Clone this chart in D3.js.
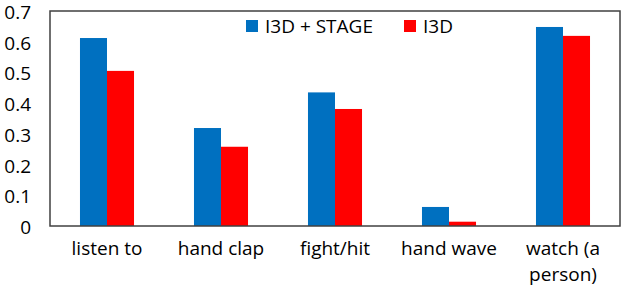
<!DOCTYPE html>
<html>
<head>
<meta charset="utf-8">
<script src="https://cdn.jsdelivr.net/npm/d3@7"></script>
<style>
  html, body { margin: 0; padding: 0; background: #fff; overflow: hidden; }
  svg { display: block; }
  text { font-family: "Open Sans", sans-serif; fill: #000; }
</style>
</head>
<body>
<svg width="624" height="288"></svg>
<script>
const categories = ['listen to', 'hand clap', 'fight/hit', 'hand wave', 'watch (a person)'];
const seriesNames = ['I3D + STAGE', 'I3D'];
const stageValues = [0.612, 0.319, 0.435, 0.062, 0.648];
const i3dValues = [0.505, 0.258, 0.381, 0.014, 0.619];
const yTicks = [0, 0.1, 0.2, 0.3, 0.4, 0.5, 0.6, 0.7];
const colors = ['#0070C0', '#FF0000'];

const svg = d3.select('svg');
const width = +svg.attr('width');
const height = +svg.attr('height');

const margin = { top: 11, left: 50, right: 4, bottom: 62 };
const innerWidth = width - margin.left - margin.right;
const innerHeight = height - margin.top - margin.bottom;

const data = categories.map((c, i) => ({ cat: c, values: [stageValues[i], i3dValues[i]] }));

const xScale = d3.scaleBand()
    .domain(categories)
    .range([0, innerWidth])
    .paddingInner(0.526)
    .paddingOuter(0.263);

const xSub = d3.scaleBand()
    .domain(seriesNames)
    .range([0, xScale.bandwidth()]);

const yScale = d3.scaleLinear()
    .domain([0, 0.7])
    .range([innerHeight, 0]);

const g = svg.append('g')
    .attr('transform', `translate(${margin.left},${margin.top})`);

// bars
g.selectAll('.group')
    .data(data)
    .enter()
    .append('g')
    .attr('transform', d => `translate(${xScale(d.cat)},0)`)
    .selectAll('rect')
    .data(d => d.values.map((v, i) => ({ name: seriesNames[i], v, i })))
    .enter()
    .append('rect')
    .attr('x', d => xSub(d.name))
    .attr('y', d => yScale(d.v))
    .attr('width', xSub.bandwidth())
    .attr('height', d => innerHeight - yScale(d.v))
    .attr('fill', d => colors[d.i]);

// frame
g.append('rect')
    .attr('width', innerWidth)
    .attr('height', innerHeight)
    .attr('fill', 'none')
    .attr('stroke', '#404040')
    .attr('stroke-width', 1.5);

// y tick labels
svg.append('g')
    .selectAll('text')
    .data(yTicks)
    .enter()
    .append('text')
    .attr('x', 31)
    .attr('y', d => margin.top + yScale(d) + 8)
    .attr('text-anchor', 'end')
    .attr('font-size', 19)
    .text(d => d === 0 ? '0' : d3.format('.1f')(d));

// x tick labels, one text per line
const xLabels = svg.append('g');
categories.forEach(c => {
    const cx = margin.left + xScale(c) + xScale.bandwidth() / 2;
    const lines = c === 'watch (a person)' ? ['watch (a', 'person)'] : [c];
    lines.forEach((l, i) => xLabels.append('text')
        .attr('x', cx)
        .attr('y', margin.top + innerHeight + 29 + i * 26)
        .attr('text-anchor', 'middle')
        .attr('font-size', 19)
        .text(l));
});

// legend
const legend = svg.append('g').attr('transform', 'translate(246,20)');
const legendX = [0, 158];
seriesNames.forEach((n, i) => {
    const item = legend.append('g').attr('transform', `translate(${legendX[i]},0)`);
    item.append('rect').attr('width', 12).attr('height', 12).attr('fill', colors[i]);
    item.append('text').attr('x', 19).attr('y', 12.5).attr('font-size', 19).text(n);
});
</script>
</body>
</html>
